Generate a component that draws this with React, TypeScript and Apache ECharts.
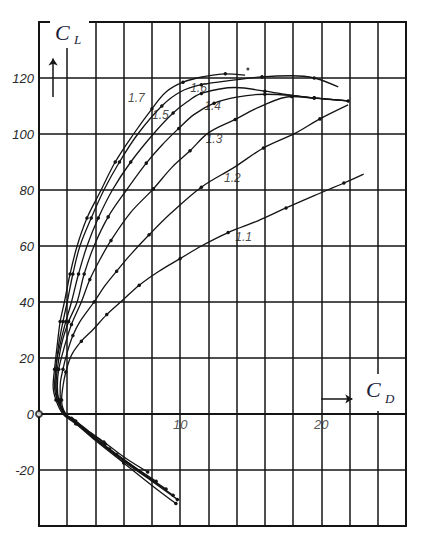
import React, { useEffect, useRef } from "react";
import * as echarts from "echarts";

const curveNames = ["1.1", "1.2", "1.3", "1.4", "1.5", "1.6", "1.7"];

const curve11 = [[4.7,-10.7],[3.6,-6.5],[2.6,-2.5],[1.9,0],[1.6,5],[1.7,10],[1.9,15],[2.3,21],[3.0,26],[3.8,30],[4.8,35.5],[5.9,40.5],[7.1,46],[8.5,51],[10.0,55.5],[11.5,60],[13.4,64.8],[15.5,69],[17.5,73.6],[19.5,78],[21.6,82.5],[23.0,85.7]];
const curve12 = [[7.7,-20.7],[6.2,-16],[4.6,-10],[3.2,-5],[2.3,-1.5],[1.8,0],[1.5,5],[1.5,10],[1.7,16],[2.0,22],[2.4,28],[2.9,33],[3.9,40],[4.7,46],[5.5,51],[6.5,57],[7.8,64],[9.3,71.5],[11.5,81],[13.8,88],[15.9,95],[18.2,100.4],[19.9,105.4],[21.9,110.4]];
const curve13 = [[8.3,-24],[6.8,-19],[5.0,-12.5],[3.5,-6.5],[2.4,-2],[1.8,0],[1.4,5],[1.3,10],[1.4,16],[1.8,24],[2.3,32],[3.0,40],[3.6,48],[4.3,55],[5.1,62],[6.5,72],[8.1,80.4],[9.4,88],[10.7,94],[12.0,100.4],[13.9,105.2],[15.6,109.6],[17.9,113.4],[19.5,112.8],[21.9,111.8]];
const curve14 = [[9.0,-26.8],[7.3,-21],[5.5,-14.5],[3.8,-8],[2.5,-2.5],[1.8,0],[1.4,5],[1.2,10],[1.3,16],[1.6,25],[2.1,33],[2.7,40],[3.2,50],[3.9,60],[4.9,70.4],[6.2,80],[7.6,89.6],[8.7,96],[9.9,102],[11.0,107],[12.4,111],[14.0,113.2],[16.0,114.2],[17.9,113.8],[19.5,112.9],[21.9,111.8]];
const curve15 = [[9.5,-29],[7.8,-23],[6.0,-16.5],[4.2,-9.5],[2.7,-3.5],[1.9,0],[1.3,5],[1.2,10],[1.2,16],[1.5,25],[1.9,33],[2.3,40],[2.8,50],[3.4,60],[4.2,70],[5.2,80],[6.5,90],[8.1,100],[9.5,107.5],[10.5,111.5],[11.5,114.5],[13.9,116.6],[16.0,115.3],[17.9,113.8],[19.5,112.9],[21.9,111.8]];
const curve16 = [[9.8,-30.5],[8.0,-24],[6.0,-17],[4.1,-9.5],[2.7,-3.5],[1.8,0],[1.3,5],[1.1,10],[1.2,16],[1.4,25],[1.7,33],[2.0,40],[2.4,50],[2.9,60],[3.7,70],[4.6,80],[5.7,90],[7.0,100],[8.7,110],[10.0,115],[11.5,117.6],[13.9,119.3],[15.8,120.4],[17.9,120.8],[19.5,120],[21.2,116.8]];
const curve17 = [[9.7,-32],[8.0,-25.5],[6.0,-17.5],[4.0,-9.5],[2.6,-3.5],[1.7,0],[1.2,5],[1.0,10],[1.1,16],[1.3,25],[1.5,33],[1.8,40],[2.2,50],[2.7,60],[3.4,70],[4.3,79],[5.4,90],[6.7,100],[8.0,109],[9.0,115],[10.2,118.5],[11.7,120.5],[13.2,121.5],[14.6,121]];

const curves = [curve11, curve12, curve13, curve14, curve15, curve16, curve17];

// where each curve's name is written (data coordinates)
const labelAnchors = [[14.5,63.2],[13.7,84.3],[12.4,98.2],[12.3,110],[8.6,106.8],[11.3,116.4],[6.9,112.9]];

const strayPoints = [[14.8,123.2]];
const originMark = [[0,0]];

const yTicksShown = [120, 100, 80, 60, 40, 20, 0, -20];
const xTicksShown = [10, 20];

// arrows beside the axis names (data coordinates)
const liftArrow = [[1.0,113.2],[1.0,127]];
const dragArrow = [[20,5.4],[22.2,5.4]];

const INK = "#141414";

export default function App() {
  const ref = useRef<HTMLDivElement>(null);
  useEffect(() => {
    if (!ref.current) return;
    const chart = echarts.init(ref.current, null, { renderer: "svg" });
    const labelFont = {
      fontStyle: "italic" as const,
      fontFamily: "Liberation Sans",
      fontSize: 13,
      color: "#2a2a2a",
    };
    const series: any[] = curves.map((c, i) => ({
      type: "line",
      name: curveNames[i],
      data: c,
      smooth: 0.35,
      symbol: "circle",
      symbolSize: (_v: any, p: any) => (p.dataIndex % 2 === 0 ? 3.5 : 0),
      showSymbol: true,
      itemStyle: { color: INK },
      lineStyle: { color: INK, width: 1.3 },
      z: 3,
    }));
    series.push({
      type: "scatter",
      data: labelAnchors.map((p, i) => ({ value: p, name: curveNames[i] })),
      symbolSize: 0,
      label: {
        show: true,
        formatter: "{b}",
        position: "inside",
        fontStyle: "italic",
        fontFamily: "Liberation Sans",
        fontSize: 12,
        color: "#1a1a1a",
      },
      z: 5,
    });
    // x tick labels sitting just under the zero line
    series.push({
      type: "scatter",
      data: xTicksShown.map((v) => ({ value: [v, 0], name: String(v) })),
      symbolSize: 0,
      label: {
        show: true,
        formatter: "{b}",
        position: "bottom",
        distance: 4,
        ...labelFont,
      },
      z: 5,
    });
    series.push({
      type: "scatter",
      data: strayPoints,
      symbol: "circle",
      symbolSize: 3,
      itemStyle: { color: INK },
    });
    series.push({
      type: "scatter",
      data: originMark,
      symbol: "emptyCircle",
      symbolSize: 6,
      itemStyle: { color: INK, borderWidth: 1 },
      z: 6,
    });
    series.push({
      type: "line",
      data: [],
      markLine: {
        silent: true,
        symbol: ["none", "arrow"],
        symbolSize: 7,
        label: { show: false },
        lineStyle: { color: INK, width: 1.5, type: "solid" },
        data: [
          [{ coord: liftArrow[0] }, { coord: liftArrow[1] }],
          [{ coord: dragArrow[0] }, { coord: dragArrow[1] }],
        ],
      },
    });

    chart.setOption({
      animation: false,
      backgroundColor: "#ffffff",
      grid: {
        left: 39,
        right: 23,
        top: 22,
        bottom: 12,
        show: true,
        borderColor: INK,
        borderWidth: 2,
        backgroundColor: "transparent",
      },
      xAxis: {
        type: "value",
        min: 0,
        max: 26,
        interval: 2,
        axisLine: { show: true, lineStyle: { color: INK, width: 2 } },
        axisTick: { show: false },
        splitLine: { show: true, lineStyle: { color: INK, width: 1.5 } },
        axisLabel: { show: false },
      },
      yAxis: {
        type: "value",
        min: -40,
        max: 140,
        interval: 20,
        axisLine: { show: true, lineStyle: { color: INK, width: 2 } },
        axisTick: { show: false },
        splitLine: { show: true, lineStyle: { color: INK, width: 1.5 } },
        axisLabel: {
          ...labelFont,
          margin: 5,
          formatter: (v: number) => (yTicksShown.includes(v) ? String(v) : ""),
        },
      },
      graphic: [
        { type: "rect", z: 100, shape: { x: 50, y: 4, width: 39, height: 44 }, style: { fill: "#ffffff" } },
        { type: "text", z: 101, x: 55, y: 21, style: { text: "C", font: 'italic 22px "Liberation Serif"', fill: "#1d1d3a", verticalAlign: "top", align: "left" } },
        { type: "text", z: 101, x: 74, y: 33, style: { text: "L", font: 'italic 13px "Liberation Serif"', fill: "#1d1d3a", verticalAlign: "top", align: "left" } },
        { type: "rect", z: 100, shape: { x: 362, y: 374, width: 43, height: 37 }, style: { fill: "#ffffff" } },
        { type: "text", z: 101, x: 366, y: 378, style: { text: "C", font: 'italic 22px "Liberation Serif"', fill: "#1d1d3a", verticalAlign: "top", align: "left" } },
        { type: "text", z: 101, x: 385, y: 392, style: { text: "D", font: 'italic 13px "Liberation Serif"', fill: "#1d1d3a", verticalAlign: "top", align: "left" } },
      ],
      series,
    });
    return () => chart.dispose();
  }, []);
  return (
    <div
      ref={ref}
      style={{ position: "fixed", left: 0, top: 0, width: 429, height: 538, background: "#fff" }}
    />
  );
}
